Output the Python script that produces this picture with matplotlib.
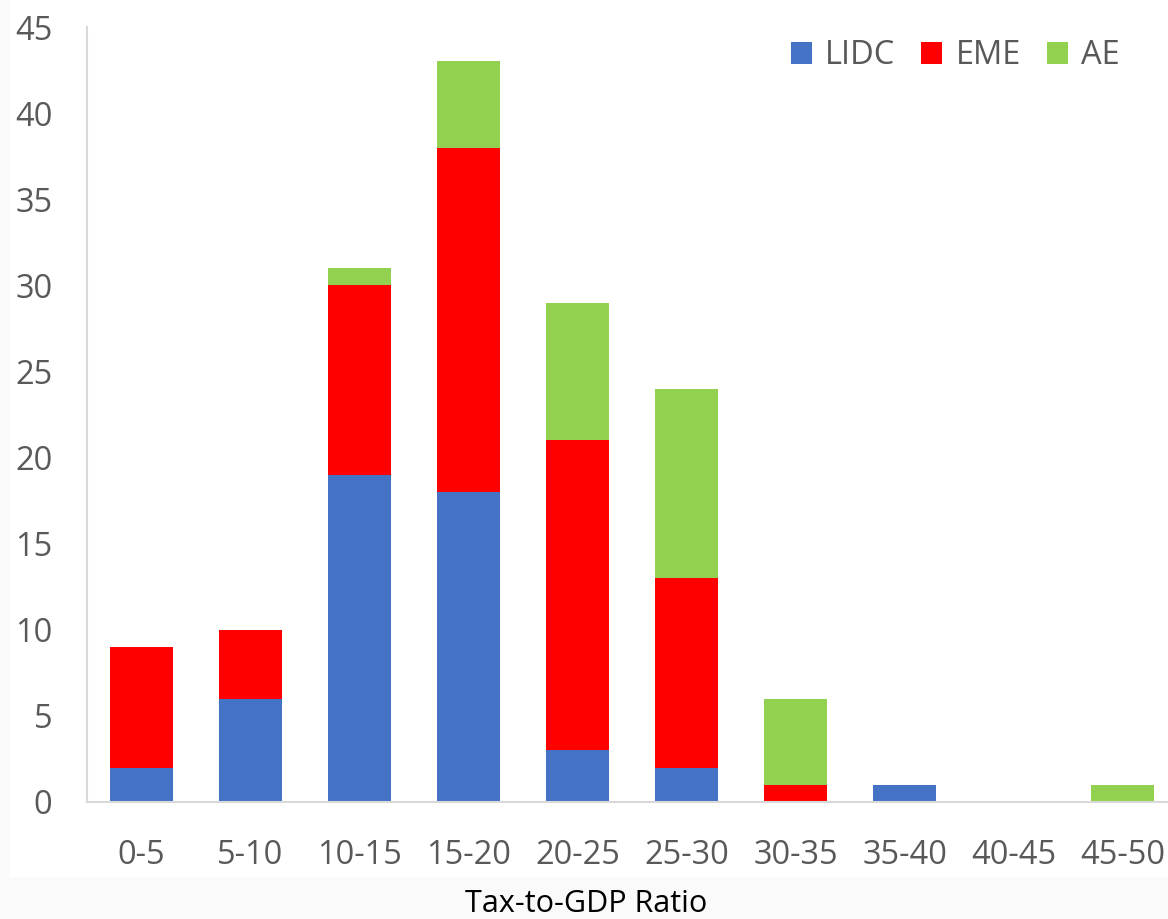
import matplotlib.pyplot as plt
from matplotlib.patches import Rectangle
import numpy as np

plt.rcParams['font.family'] = ['Open Sans', 'DejaVu Sans']

bins = ["0-5", "5-10", "10-15", "15-20", "20-25", "25-30", "30-35", "35-40", "40-45", "45-50"]
lidc = [2, 6, 19, 18, 3, 2, 0, 1, 0, 0]
eme = [7, 4, 11, 20, 18, 11, 1, 0, 0, 0]
ae = [0, 0, 1, 5, 8, 11, 5, 0, 0, 1]

colors = {"LIDC": "#4472C4", "EME": "#FF0000", "AE": "#92D050"}
grey = "#595959"

W, H = 1168, 919
fig = plt.figure(figsize=(W / 100, H / 100), dpi=100)
fig.patch.set_facecolor("#fafafa")
fig.patches.append(Rectangle((10 / W, (H - 877) / H), 1, 1, transform=fig.transFigure,
                             facecolor="white", edgecolor="none", zorder=-10))

ax = fig.add_axes([87 / W, (H - 802) / H, 1090 / W, (802 - 27) / H])
ax.set_facecolor("none")

x = np.arange(len(bins))
w = 0.57
lidc = np.array(lidc)
eme = np.array(eme)
ae = np.array(ae)
ax.bar(x, lidc, w, color=colors["LIDC"], label="LIDC")
ax.bar(x, eme, w, bottom=lidc, color=colors["EME"], label="EME")
ax.bar(x, ae, w, bottom=lidc + eme, color=colors["AE"], label="AE")

ax.set_xlim(-0.5, len(bins) - 0.5)
ax.set_ylim(0, 45)
ax.set_yticks(range(0, 46, 5))
ax.set_xticks(x)
ax.set_xticklabels(bins)

for s in ["top", "right"]:
    ax.spines[s].set_visible(False)
for s in ["left", "bottom"]:
    ax.spines[s].set_color("#d9d9d9")
    ax.spines[s].set_linewidth(1.5)

ax.tick_params(axis="both", length=0, labelsize=23.5, labelcolor=grey)
ax.tick_params(axis="y", pad=25)
ax.tick_params(axis="x", pad=27)

fig.text(586 / W, (H - 904) / H, "Tax-to-GDP Ratio", ha="center", va="center",
         fontsize=22, color="black")

ax.legend(loc="center right", bbox_to_anchor=(1136 / W, (H - 56) / H),
          bbox_transform=fig.transFigure, ncol=3, frameon=False,
          fontsize=23.5, labelcolor=grey, handlelength=0.65, handleheight=0.65,
          handletextpad=0.4, columnspacing=0.8, borderpad=0)

fig.savefig("out.png", dpi=100)
